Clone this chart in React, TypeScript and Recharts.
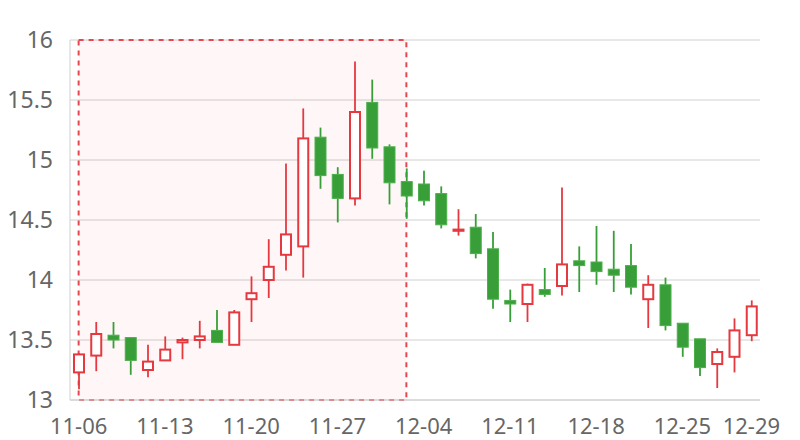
import React from "react";
import {
  ComposedChart,
  Bar,
  XAxis,
  YAxis,
  CartesianGrid,
  ReferenceArea,
} from "recharts";

const dates = [
  "11-06", "11-07", "11-08", "11-09", "11-10",
  "11-13", "11-14", "11-15", "11-16", "11-17",
  "11-20", "11-21", "11-22", "11-23", "11-24",
  "11-27", "11-28", "11-29", "11-30", "12-01",
  "12-04", "12-05", "12-06", "12-07", "12-08",
  "12-11", "12-12", "12-13", "12-14", "12-15",
  "12-18", "12-19", "12-20", "12-21", "12-22",
  "12-25", "12-26", "12-27", "12-28", "12-29",
];

const openValues = [
  13.23, 13.37, 13.54, 13.52, 13.25, 13.33, 13.48, 13.5, 13.58, 13.46,
  13.84, 14.0, 14.21, 14.28, 15.19, 14.88, 14.68, 15.48, 15.11, 14.82,
  14.8, 14.72, 14.41, 14.44, 14.26, 13.83, 13.8, 13.92, 13.95, 14.16,
  14.15, 14.09, 14.12, 13.84, 13.96, 13.64, 13.51, 13.3, 13.36, 13.54,
];
const closeValues = [
  13.38, 13.55, 13.5, 13.33, 13.32, 13.42, 13.5, 13.53, 13.48, 13.73,
  13.89, 14.11, 14.38, 15.18, 14.87, 14.68, 15.4, 15.1, 14.81, 14.7,
  14.66, 14.46, 14.42, 14.22, 13.84, 13.8, 13.96, 13.88, 14.13, 14.12,
  14.07, 14.04, 13.94, 13.96, 13.62, 13.44, 13.27, 13.4, 13.58, 13.78,
];
const lowValues = [
  13.09, 13.24, 13.43, 13.21, 13.19, 13.33, 13.34, 13.43, 13.48, 13.46,
  13.65, 13.85, 14.08, 14.02, 14.76, 14.48, 14.62, 15.01, 14.63, 14.51,
  14.62, 14.43, 14.37, 14.18, 13.76, 13.65, 13.65, 13.86, 13.87, 13.9,
  13.96, 13.9, 13.88, 13.6, 13.58, 13.36, 13.2, 13.1, 13.23, 13.49,
];
const highValues = [
  13.39, 13.65, 13.65, 13.52, 13.46, 13.53, 13.52, 13.66, 13.75, 13.75,
  14.03, 14.34, 14.97, 15.43, 15.27, 14.94, 15.82, 15.67, 15.13, 14.93,
  14.91, 14.78, 14.59, 14.55, 14.4, 13.92, 13.97, 14.1, 14.77, 14.28,
  14.45, 14.41, 14.3, 14.04, 14.02, 13.64, 13.51, 13.43, 13.68, 13.83,
];

const xTickIndexes = [0, 5, 10, 15, 20, 25, 30, 35, 39];
const yTicks = [13, 13.5, 14, 14.5, 15, 15.5, 16];
const highlightStart = 0;
const highlightEnd = 19;

const RED = "#e5393f";
const GREEN = "#389f38";
const GRID = "#d0d0d0";
const TEXT = "#666666";
const FONT = "'Noto Sans', sans-serif";

const data = dates.map((d, i) => ({
  idx: i,
  date: d,
  open: openValues[i],
  close: closeValues[i],
  low: lowValues[i],
  high: highValues[i],
  range: [lowValues[i], highValues[i]],
}));

const Candle = (props: any) => {
  const { x, width, y, height, payload } = props;
  if (!payload || x == null || y == null) return null;
  const { open, close, high, low } = payload;
  const yTop = Math.min(y, y + height);
  const h = Math.abs(height);
  const ppu = high - low > 0 ? h / (high - low) : 0;
  const yOf = (v: number) => yTop + (high - v) * ppu;
  const cx = x + width / 2;
  const up = close >= open;
  const color = up ? RED : GREEN;
  const bTop = yOf(Math.max(open, close));
  const bBot = yOf(Math.min(open, close));
  const bodyH = Math.max(bBot - bTop, 1);
  return (
    <g>
      <line x1={cx} x2={cx} y1={yTop} y2={bTop} stroke={color} strokeWidth={1.8} />
      <line x1={cx} x2={cx} y1={bTop + bodyH} y2={yTop + h} stroke={color} strokeWidth={1.8} />
      {up ? (
        <rect x={x + 1} y={bTop} width={width - 2} height={bodyH} fill="#ffffff" stroke={color} strokeWidth={2} />
      ) : (
        <rect x={x + 0.5} y={bTop} width={width - 1} height={bodyH} fill={color} stroke="#4caf4c" strokeWidth={1} />
      )}
    </g>
  );
};

export default function App() {
  return (
    <div style={{ width: 784, height: 432 }}>
      <ComposedChart
        width={784}
        height={432}
        data={data}
        margin={{ top: 32, right: 32, bottom: 8, left: 0 }}
      >
        <CartesianGrid vertical={false} stroke={GRID} />
        <ReferenceArea
          x1={highlightStart}
          x2={highlightEnd}
          y1={13}
          y2={16}
          fill="#ff0000"
          fillOpacity={0.03}
          stroke="#e8464e"
          strokeWidth={2}
          strokeDasharray="5 5"
        />
        <XAxis
          dataKey="idx"
          type="number"
          domain={[-0.5, 39.5]}
          ticks={xTickIndexes}
          interval={0}
          tickFormatter={(i: number) => dates[i]}
          height={32}
          tickLine={false}
          tickMargin={12}
          axisLine={{ stroke: GRID }}
          tick={{ fill: TEXT, fontSize: 22, fontFamily: FONT }}
        />
        <YAxis
          type="number"
          domain={[13, 16]}
          ticks={yTicks}
          width={62}
          tickLine={false}
          tickMargin={11}
          axisLine={{ stroke: GRID }}
          tick={{ fill: TEXT, fontSize: 23, fontFamily: FONT }}
        />
        <YAxis
          yAxisId="right"
          orientation="right"
          width={0}
          tick={false}
          tickLine={false}
          axisLine={{ stroke: GRID }}
        />
        <Bar
          dataKey="range"
          barSize={12}
          shape={<Candle />}
          isAnimationActive={false}
        />
      </ComposedChart>
    </div>
  );
}
